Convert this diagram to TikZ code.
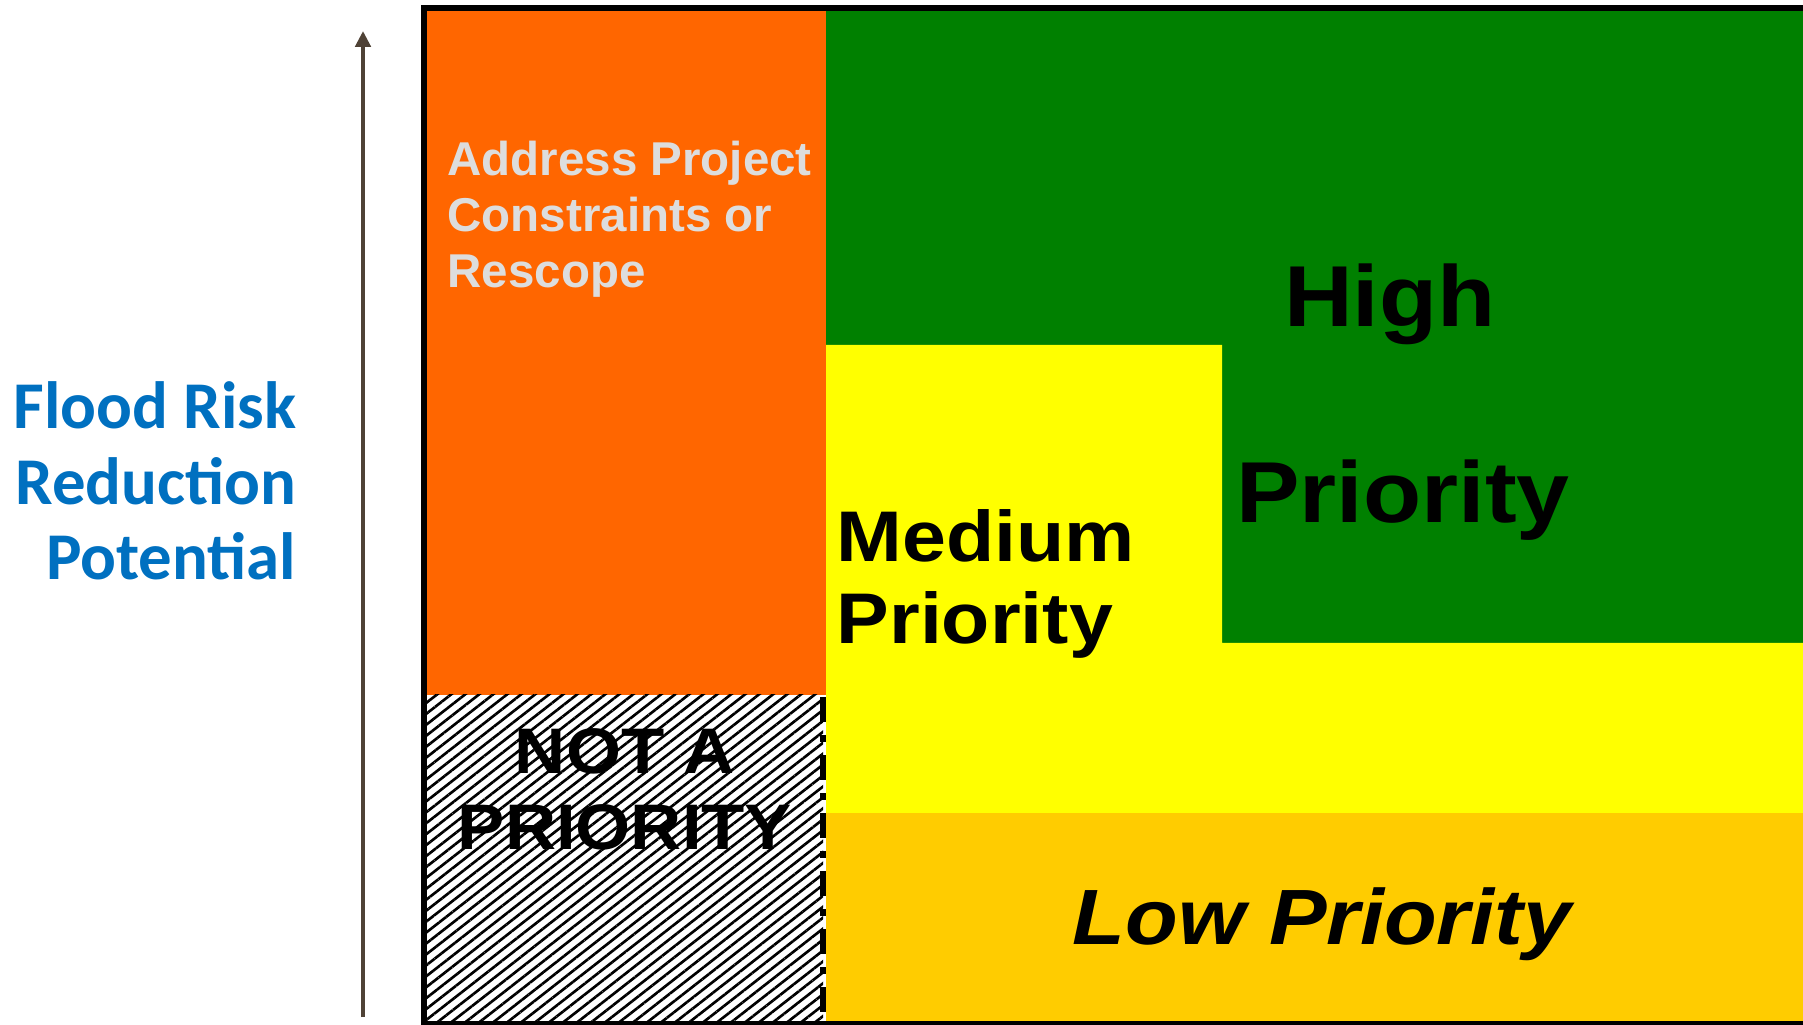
\documentclass[tikz,border=0pt]{standalone}
\usepackage{fontspec}
\usepackage{tikz}
\usetikzlibrary{arrows.meta,patterns.meta}
\newfontfamily\arialfont{Liberation Sans}
\newfontfamily\arialwide[FakeStretch=1.1]{Liberation Sans}
\newfontfamily\calibrifont{Carlito}
\definecolor{riskorange}{HTML}{FF6600}
\definecolor{riskgreen}{HTML}{008000}
\definecolor{riskyellow}{HTML}{FFFF00}
\definecolor{riskgold}{HTML}{FFCC00}
\definecolor{riskblue}{HTML}{0070C0}
\definecolor{axisbrown}{HTML}{4F4236}
\definecolor{notegray}{HTML}{DDDDDD}
\tikzset{
	zonetext/.style={inner sep=0pt, text=black},
}

\begin{document}
\begin{tikzpicture}[x=0.01cm, y=-0.01cm]
		%%%%% START %%%%%
		\useasboundingbox (0, 0) rectangle (1803, 1025);
		
		% zones
		\fill[riskorange] (427, 11) rectangle (826, 695);
		\fill[pattern={Lines[angle=38, distance=2.45pt, line width=0.75pt]}] (427, 695) rectangle (823, 1025);
		\fill[riskgreen] (826, 11) -- (1803, 11) -- (1803, 643) -- (1222, 643) -- (1222, 345) -- (826, 345) -- cycle;
		\fill[riskyellow] (826, 345) -- (1222, 345) -- (1222, 643) -- (1803, 643) -- (1803, 813) -- (826, 813) -- cycle;
		\fill[riskgold] (826, 813) rectangle (1803, 1025);
		
		\draw[line width=1.7pt, dash pattern=on 7.1pt off 3.7pt on 2pt off 3.7pt] (823, 697) -- (823, 1025);
		
		% frame
		\draw[line width=1.7pt] (1803, 8) -- (424, 8) -- (424, 1024) -- (1803, 1024);
		
		% axis
		\coordinate (axisbot) at (363, 1017);
		\coordinate (axistop) at (363, 31);
		\draw[-{Triangle[width=4.3pt, length=4.5pt]}, line width=1.15pt, color=axisbrown] (axisbot) -- (axistop);
		\node[inner sep=0pt, text=riskblue, align=right, anchor=east, font=\calibrifont\bfseries\fontsize{19}{21.5}\selectfont] (axislabel) at (297, 481) {Flood Risk\\Reduction\\Potential};
		
		% labels
		\node[zonetext, text=notegray, anchor=west, align=left, font=\arialfont\bfseries\fontsize{13.5}{16}\selectfont] (rescope) at (447, 219) {Address Project\\Constraints or\\Rescope};
		\node[zonetext, anchor=west, align=left, font=\arialwide\bfseries\fontsize{20.4}{23.3}\selectfont] (medium) at (836, 584) {Medium\\Priority};
		\node[zonetext, align=center, font=\arialwide\bfseries\fontsize{24.6}{55.7}\selectfont] (high) at (1403, 402) {High\hphantom{\ }\\Priority};
		\node[zonetext, align=center, font=\arialwide\bfseries\fontsize{18.3}{21.7}\selectfont] (notprio) at (625, 789) {NOT A\\PRIORITY};
		\node[zonetext, anchor=base, font=\arialwide\bfseries\itshape\fontsize{22.3}{26}\selectfont] (low) at (1322, 944) {Low Priority};
		
		%%%%% END %%%%%
\end{tikzpicture}
\end{document}
